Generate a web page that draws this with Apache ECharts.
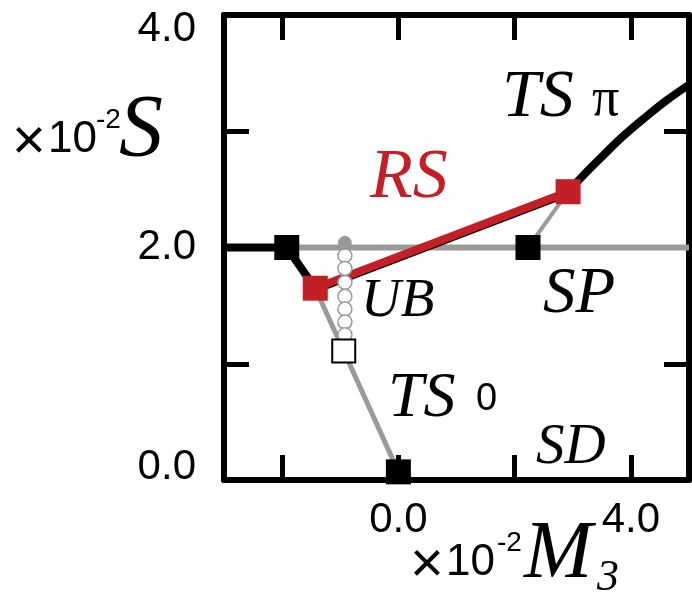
<!DOCTYPE html>
<html><head><meta charset="utf-8">
<script src="https://cdn.jsdelivr.net/npm/echarts@6/dist/echarts.min.js"></script>
<style>html,body{margin:0;padding:0;background:#fff}#c{width:692px;height:599px}</style>
</head><body><div id="c"></div>
<script>
// axis extents and tick labels
const xRange = [-3, 5];
const yRange = [0, 4];
const xTicks = [-2, 0, 2, 4];
const xTickLabels = [0, 4];
const yTicks = [1, 2, 3];
const yTickLabels = [0, 2, 4];

// boundary lines (M3, S)
const grayHoriz = [[-1.92, 2.0], [5.0, 2.0]];
const blackLeft = [[-3.0, 2.0], [-1.92, 2.0], [-1.43, 1.65]];
const blackUnderRS = [[-1.43, 1.62], [2.92, 2.45]];
const redRS = [[-1.43, 1.65], [2.92, 2.48]];
const blackTSpi = [[2.92, 2.48], [3.2, 2.63], [3.5, 2.78], [3.85, 2.95], [4.2, 3.1], [4.6, 3.26], [5.0, 3.40]];
const grayRight = [[2.23, 2.0], [2.92, 2.48]];
const grayTS0 = [[-1.43, 1.65], [-0.94, 1.11], [0.0, 0.07]];

// markers
const ubFilled = [[-0.92, 2.04]];
const ubOpen = [[-0.92, 1.93], [-0.92, 1.82], [-0.92, 1.70], [-0.92, 1.58], [-0.92, 1.47], [-0.92, 1.36], [-0.92, 1.25]];
const blackSquares = [[-1.92, 2.0], [2.23, 2.0], [0.0, 0.07]];
const redSquares = [[-1.43, 1.65], [2.92, 2.48]];
const openSquares = [[-0.94, 1.11]];

const RED = '#c21f27';
const GRAY = '#9a9a9a';
const SANS = '"Liberation Sans", Arial, sans-serif';
const SERIF = '"Liberation Serif", "Times New Roman", serif';

const chart = echarts.init(document.getElementById('c'), null, {renderer: 'canvas'});

function lineSeries(data, color, width, z, smooth) {
  return {type: 'line', data: data, symbol: 'none', smooth: smooth || false, z: z,
    lineStyle: {color: color, width: width, cap: 'butt', join: 'miter'}, silent: true, animation: false};
}
function scatterSeries(data, symbol, size, fill, border, bw, z) {
  return {type: 'scatter', data: data, symbol: symbol, symbolSize: size, z: z, animation: false, silent: true,
    itemStyle: {color: fill, borderColor: border, borderWidth: bw, opacity: 1}};
}

const axisLine = {show: true, onZero: false, lineStyle: {color: '#000', width: 6}};
const tickStyle = {show: true, inside: true, length: 25, lineStyle: {color: '#000', width: 5}};

const fmt = v => Number(v).toFixed(1);

const option = {
  animation: false,
  grid: {left: 224, right: 3, top: 15, bottom: 119, containLabel: false},
  xAxis: [
    {type: 'value', min: xRange[0], max: xRange[1], position: 'bottom',
      axisLine: axisLine, splitLine: {show: false},
      axisTick: Object.assign({customValues: xTicks}, tickStyle),
      axisLabel: {customValues: xTickLabels, formatter: fmt, margin: 19,
        color: '#000', fontFamily: SANS, fontSize: 42}},
    {type: 'value', min: xRange[0], max: xRange[1], position: 'top',
      axisLine: axisLine, splitLine: {show: false},
      axisTick: Object.assign({customValues: xTicks}, tickStyle),
      axisLabel: {show: false}}
  ],
  yAxis: [
    {type: 'value', min: yRange[0], max: yRange[1], position: 'left',
      axisLine: axisLine, splitLine: {show: false},
      axisTick: Object.assign({customValues: yTicks}, tickStyle),
      axisLabel: {customValues: yTickLabels, margin: 28, color: '#000',
        formatter: function (v) {
          if (v >= yRange[1]) return '{t|' + fmt(v) + '}';
          if (v <= yRange[0]) return '{b|' + fmt(v) + '}';
          return '{m|' + fmt(v) + '}';
        },
        rich: {
          t: {fontFamily: SANS, fontSize: 42, color: '#000', padding: [28, 0, 0, 0]},
          b: {fontFamily: SANS, fontSize: 42, color: '#000', padding: [0, 0, 26, 0]},
          m: {fontFamily: SANS, fontSize: 42, color: '#000'}
        }}},
    {type: 'value', min: yRange[0], max: yRange[1], position: 'right',
      axisLine: axisLine, splitLine: {show: false},
      axisTick: Object.assign({customValues: yTicks}, tickStyle),
      axisLabel: {show: false}}
  ],
  series: [
    lineSeries(grayHoriz, GRAY, 6, 2),
    lineSeries(grayRight, GRAY, 4, 2),
    lineSeries(grayTS0, GRAY, 5, 2),
    lineSeries(blackLeft, '#000', 8, 3),
    lineSeries(blackUnderRS, '#000', 4, 3),
    lineSeries(blackTSpi, '#000', 8, 3, 0.4),
    lineSeries(redRS, RED, 8, 4),
    scatterSeries(ubOpen, 'circle', 14, '#fff', GRAY, 1.5, 5),
    scatterSeries(ubFilled, 'circle', 14, GRAY, GRAY, 0, 5),
    scatterSeries(blackSquares, 'rect', 25, '#000', '#000', 0, 6),
    scatterSeries(redSquares, 'rect', 25, RED, RED, 0, 6),
    scatterSeries(openSquares, 'rect', 23, '#fff', '#000', 2, 6)
  ],
  graphic: [
    // y axis name
    {type: 'text', left: 12, top: 114, style: {text: '×', font: '58px ' + SANS, fill: '#000'}},
    {type: 'text', left: 48, top: 118, style: {text: '10', font: '44px ' + SANS, fill: '#000'}},
    {type: 'text', left: 96, top: 106, style: {text: '-2', font: '28px ' + SANS, fill: '#000'}},
    {type: 'text', left: 119, top: 88, style: {text: 'S', font: 'italic 88px ' + SERIF, fill: '#000'}},
    // x axis name
    {type: 'text', left: 410, top: 537, style: {text: '×', font: '58px ' + SANS, fill: '#000'}},
    {type: 'text', left: 446, top: 541, style: {text: '10', font: '44px ' + SANS, fill: '#000'}},
    {type: 'text', left: 497, top: 529, style: {text: '-2', font: '28px ' + SANS, fill: '#000'}},
    {type: 'text', left: 524, top: 514, style: {text: 'M', font: 'italic 82px ' + SERIF, fill: '#000'}},
    {type: 'text', left: 597, top: 556, style: {text: '3', font: 'italic 44px ' + SERIF, fill: '#000'}},
    // region labels
    {type: 'text', left: 502, top: 64, style: {text: 'TS', font: 'italic 68px ' + SERIF, fill: '#000'}},
    {type: 'text', left: 592, top: 74, style: {text: 'π', font: '54px ' + SERIF, fill: '#000'}},
    {type: 'text', left: 370, top: 144, style: {text: 'RS', font: 'italic 70px ' + SERIF, fill: RED}},
    {type: 'text', left: 361, top: 274, style: {text: 'UB', font: 'italic 55px ' + SERIF, fill: '#000'}},
    {type: 'text', left: 543, top: 262, style: {text: 'SP', font: 'italic 65px ' + SERIF, fill: '#000'}},
    {type: 'text', left: 388, top: 367, style: {text: 'TS', font: 'italic 64px ' + SERIF, fill: '#000'}},
    {type: 'text', left: 476, top: 381, style: {text: '0', font: '38px ' + SANS, fill: '#000'}},
    {type: 'text', left: 536, top: 420, style: {text: 'SD', font: 'italic 57px ' + SERIF, fill: '#000'}}
  ]
};
chart.setOption(option);
</script>
</body></html>
